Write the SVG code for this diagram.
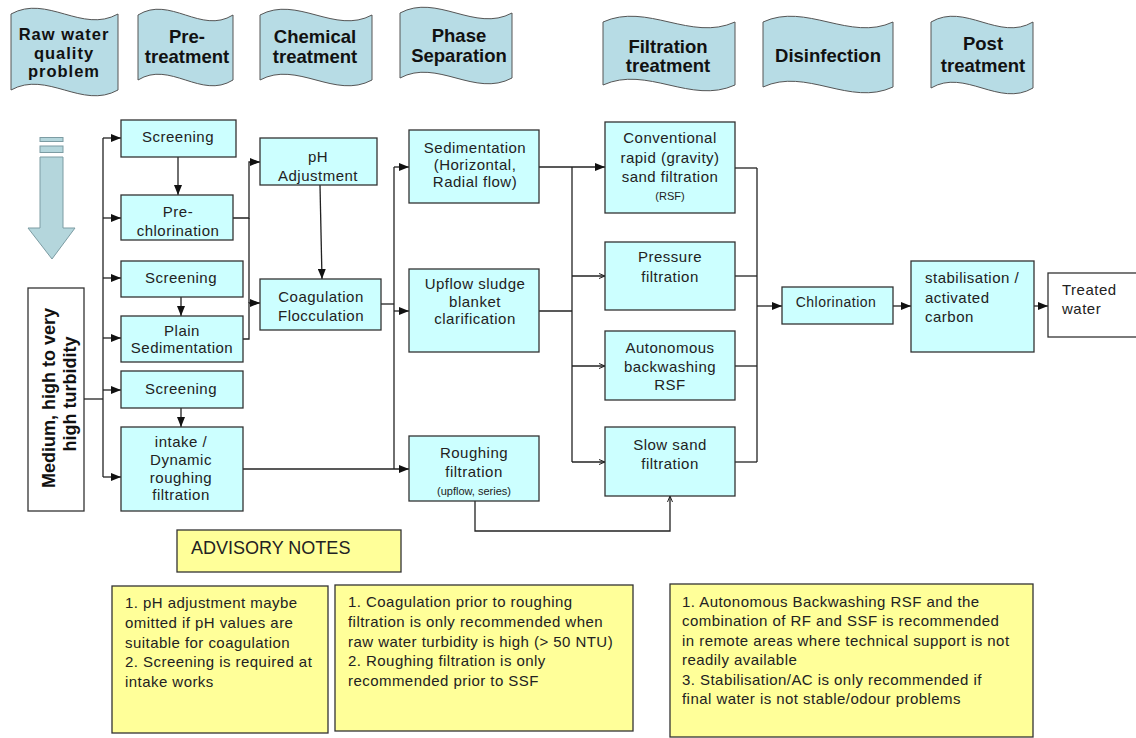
<svg xmlns="http://www.w3.org/2000/svg" width="1136" height="738" viewBox="0 0 1136 738">
  <defs>
    <style>
      .banner { fill: #b7dce5; stroke: #555; stroke-width: 1; }
      .btxt { font-family: "Liberation Sans", Arial, sans-serif; font-weight: bold; font-size: 18.5px; fill: #111; text-anchor: middle; }
      .box { fill: #ccffff; stroke: #333; stroke-width: 1.3; }
      .wbox { fill: #ffffff; stroke: #333; stroke-width: 1.3; }
      .note { fill: #ffff99; stroke: #333; stroke-width: 1.3; }
      .t { font-family: "Liberation Sans", Arial, sans-serif; font-size: 15px; letter-spacing: 0.5px; fill: #222; text-anchor: middle; }
      .tl { font-family: "Liberation Sans", Arial, sans-serif; font-size: 15px; letter-spacing: 0.5px; fill: #222; }
      .ts { font-family: "Liberation Sans", Arial, sans-serif; font-size: 11px; fill: #222; text-anchor: middle; }
      .nt { font-family: "Liberation Sans", Arial, sans-serif; font-size: 15px; letter-spacing: 0.45px; fill: #222; }
      .conn path, .conn line { fill: none; stroke: #222; stroke-width: 1.3; }
      .big { marker-end: url(#ah); }
      .small { marker-end: url(#as); }
    </style>
    <marker id="ah" viewBox="0 0 10 8" refX="10" refY="4" markerWidth="10" markerHeight="8" orient="auto" markerUnits="userSpaceOnUse">
      <path d="M0,0 L10,4 L0,8 z" fill="#111"/>
    </marker>
    <marker id="as" viewBox="0 0 6 6" refX="6" refY="3" markerWidth="6" markerHeight="6" orient="auto" markerUnits="userSpaceOnUse">
      <path d="M0,0.5 L6,3 L0,5.5" fill="none" stroke="#222" stroke-width="1"/>
    </marker>
  </defs>

  <rect width="1136" height="738" fill="#ffffff"/>

  <!-- stage banners -->
  <g id="banner-raw">
    <path class="banner" d="M11,14 C47,-6 82,34 118,14 L118,90 C82,110 47,70 11,90 Z"/>
    <text class="btxt" x="64" y="40" style="font-size:16.5px;letter-spacing:1px">Raw water</text>
    <text class="btxt" x="64" y="58.5" style="font-size:16.5px;letter-spacing:1px">quality</text>
    <text class="btxt" x="64" y="77" style="font-size:16.5px;letter-spacing:1px">problem</text>
  </g>
  <g id="banner-pre">
    <path class="banner" d="M138,15 C170,-5 201,35 233,15 L233,80 C201,100 170,60 138,80 Z"/>
    <text class="btxt" x="187" y="43">Pre-</text>
    <text class="btxt" x="187" y="63">treatment</text>
  </g>
  <g id="banner-chem">
    <path class="banner" d="M260,15 C297,-5 335,35 372,15 L372,80 C335,100 297,60 260,80 Z"/>
    <text class="btxt" x="315" y="43">Chemical</text>
    <text class="btxt" x="315" y="63">treatment</text>
  </g>
  <g id="banner-phase">
    <path class="banner" d="M400,13 C437,-7 475,33 512,13 L512,78 C475,98 437,58 400,78 Z"/>
    <text class="btxt" x="459" y="42">Phase</text>
    <text class="btxt" x="459" y="62">Separation</text>
  </g>
  <g id="banner-filt">
    <path class="banner" d="M603,22 C647,2 691,42 735,22 L735,85 C691,105 647,65 603,85 Z"/>
    <text class="btxt" x="668" y="53">Filtration</text>
    <text class="btxt" x="668" y="72">treatment</text>
  </g>
  <g id="banner-dis">
    <path class="banner" d="M763,22 C806,2 850,42 893,22 L893,87 C850,107 806,67 763,87 Z"/>
    <text class="btxt" x="828" y="62">Disinfection</text>
  </g>
  <g id="banner-post">
    <path class="banner" d="M931,22 C965,2 999,42 1033,22 L1033,88 C999,108 965,68 931,88 Z"/>
    <text class="btxt" x="983" y="50">Post</text>
    <text class="btxt" x="983" y="72">treatment</text>
  </g>

  <!-- downward block arrow -->
  <g id="flow-arrow" fill="#b4d6dc" stroke="#7c9ca3" stroke-width="1">
    <rect x="40" y="137.5" width="23" height="4"/>
    <rect x="40" y="146" width="23" height="6.5"/>
    <path d="M40,157 L63,157 L63,228 L75,228 L52,259 L28,228 L40,228 Z"/>
  </g>

  <!-- raw water condition -->
  <g id="turbidity">
    <rect class="wbox" x="28" y="288" width="56" height="223"/>
    <text class="btxt" transform="translate(55,398) rotate(-90)" style="font-size:18px">Medium, high to very</text>
    <text class="btxt" transform="translate(76,394) rotate(-90)" style="font-size:18px">high turbidity</text>
  </g>

  <!-- connectors -->
  <g id="connectors" class="conn">
    <line x1="84" y1="399" x2="103" y2="399"/>
    <line x1="103" y1="138" x2="103" y2="477"/>
    <line class="big" x1="103" y1="138" x2="121" y2="138"/>
    <line class="big" x1="103" y1="218" x2="121" y2="218"/>
    <line class="big" x1="103" y1="278" x2="121" y2="278"/>
    <line class="big" x1="103" y1="338" x2="121" y2="338"/>
    <line class="big" x1="103" y1="390" x2="121" y2="390"/>
    <line class="big" x1="103" y1="477" x2="121" y2="477"/>

    <line class="big" x1="178" y1="157" x2="178" y2="195"/>
    <line class="big" x1="181" y1="297" x2="181" y2="316"/>
    <line class="big" x1="181" y1="408" x2="181" y2="427"/>

    <path class="big" d="M233,218 L249,218 L249,162 L260,162"/>
    <path class="big" d="M243,339 L249,339 L249,303 L260,303"/>
    <line x1="249" y1="218" x2="249" y2="303"/>
    <line class="big" x1="320" y1="185" x2="322" y2="279"/>

    <line x1="381" y1="304" x2="394" y2="304"/>
    <line x1="394" y1="167" x2="394" y2="469"/>
    <line class="big" x1="394" y1="167" x2="409" y2="167"/>
    <line class="big" x1="394" y1="311" x2="409" y2="311"/>
    <line class="big" x1="243" y1="469" x2="409" y2="469"/>

    <line class="big" x1="539" y1="167" x2="605" y2="167"/>
    <line x1="539" y1="311" x2="572" y2="311"/>
    <line x1="572" y1="167" x2="572" y2="462"/>
    <line class="small" x1="572" y1="276" x2="605" y2="276"/>
    <line class="small" x1="572" y1="366" x2="605" y2="366"/>
    <line class="small" x1="572" y1="462" x2="605" y2="462"/>

    <path class="small" d="M475,501 L475,531 L670,531 L670,496"/>

    <line x1="735" y1="168" x2="757" y2="168"/>
    <line x1="735" y1="276" x2="757" y2="276"/>
    <line x1="735" y1="366" x2="757" y2="366"/>
    <line x1="735" y1="462" x2="757" y2="462"/>
    <line x1="757" y1="168" x2="757" y2="462"/>
    <line class="big" x1="757" y1="306" x2="782" y2="306"/>
    <line class="big" x1="893" y1="306" x2="911" y2="306"/>
    <line class="big" x1="1034" y1="306" x2="1048" y2="306"/>
  </g>

  <!-- pre-treatment -->
  <g id="screening-1">
    <rect class="box" x="121" y="120" width="115" height="37"/>
    <text class="t" x="178" y="142">Screening</text>
  </g>
  <g id="pre-chlorination">
    <rect class="box" x="121" y="195" width="112" height="45"/>
    <text class="t" x="178" y="217">Pre-</text>
    <text class="t" x="178" y="236">chlorination</text>
  </g>
  <g id="screening-2">
    <rect class="box" x="121" y="261" width="122" height="36"/>
    <text class="t" x="181" y="283">Screening</text>
  </g>
  <g id="plain-sedimentation">
    <rect class="box" x="121" y="316" width="122" height="46"/>
    <text class="t" x="182" y="336">Plain</text>
    <text class="t" x="182" y="353">Sedimentation</text>
  </g>
  <g id="screening-3">
    <rect class="box" x="121" y="371" width="122" height="37"/>
    <text class="t" x="181" y="394">Screening</text>
  </g>
  <g id="intake-roughing">
    <rect class="box" x="121" y="427" width="122" height="84"/>
    <text class="t" x="181" y="447">intake /</text>
    <text class="t" x="181" y="465">Dynamic</text>
    <text class="t" x="181" y="483">roughing</text>
    <text class="t" x="181" y="500">filtration</text>
  </g>

  <!-- chemical treatment -->
  <g id="ph-adjustment">
    <rect class="box" x="260" y="138" width="117" height="47"/>
    <text class="t" x="318" y="162">pH</text>
    <text class="t" x="318" y="181">Adjustment</text>
  </g>
  <g id="coagulation">
    <rect class="box" x="260" y="279" width="121" height="51"/>
    <text class="t" x="321" y="302">Coagulation</text>
    <text class="t" x="321" y="321">Flocculation</text>
  </g>

  <!-- phase separation -->
  <g id="sedimentation">
    <rect class="box" x="409" y="130" width="130" height="73"/>
    <text class="t" x="475" y="153">Sedimentation</text>
    <text class="t" x="475" y="170">(Horizontal,</text>
    <text class="t" x="475" y="187">Radial flow)</text>
  </g>
  <g id="upflow-clarification">
    <rect class="box" x="409" y="269" width="130" height="83"/>
    <text class="t" x="475" y="289">Upflow sludge</text>
    <text class="t" x="475" y="307">blanket</text>
    <text class="t" x="475" y="324">clarification</text>
  </g>
  <g id="roughing-filtration">
    <rect class="box" x="409" y="436" width="130" height="65"/>
    <text class="t" x="474" y="458">Roughing</text>
    <text class="t" x="474" y="477">filtration</text>
    <text class="ts" x="474" y="495">(upflow, series)</text>
  </g>

  <!-- filtration -->
  <g id="rapid-sand">
    <rect class="box" x="605" y="122" width="130" height="91"/>
    <text class="t" x="670" y="143">Conventional</text>
    <text class="t" x="670" y="163">rapid (gravity)</text>
    <text class="t" x="670" y="182">sand filtration</text>
    <text class="ts" x="670" y="200">(RSF)</text>
  </g>
  <g id="pressure-filtration">
    <rect class="box" x="605" y="242" width="130" height="68"/>
    <text class="t" x="670" y="262">Pressure</text>
    <text class="t" x="670" y="282">filtration</text>
  </g>
  <g id="autonomous-rsf">
    <rect class="box" x="605" y="331" width="130" height="69"/>
    <text class="t" x="670" y="353">Autonomous</text>
    <text class="t" x="670" y="372">backwashing</text>
    <text class="t" x="670" y="390">RSF</text>
  </g>
  <g id="slow-sand">
    <rect class="box" x="605" y="427" width="130" height="69"/>
    <text class="t" x="670" y="450">Slow sand</text>
    <text class="t" x="670" y="469">filtration</text>
  </g>

  <!-- disinfection and post treatment -->
  <g id="chlorination">
    <rect class="box" x="782" y="287" width="111" height="37"/>
    <text class="t" x="836" y="307" style="font-size:14px">Chlorination</text>
  </g>
  <g id="stabilisation">
    <rect class="box" x="911" y="261" width="123" height="91"/>
    <text class="tl" x="925" y="283">stabilisation /</text>
    <text class="tl" x="925" y="303">activated</text>
    <text class="tl" x="925" y="322">carbon</text>
  </g>
  <g id="treated-water">
    <rect class="wbox" x="1048" y="273" width="95" height="64"/>
    <text class="tl" x="1062" y="295">Treated</text>
    <text class="tl" x="1062" y="314">water</text>
  </g>

  <!-- notes -->
  <g id="advisory-title">
    <rect class="note" x="177" y="530" width="224" height="42"/>
    <text x="191" y="554" font-family="Liberation Sans, Arial, sans-serif" font-size="18" fill="#222">ADVISORY NOTES</text>
  </g>
  <g id="note-1">
    <rect class="note" x="112" y="586" width="216" height="147"/>
    <text class="nt" x="125" y="608">1. pH adjustment maybe</text>
    <text class="nt" x="125" y="628">omitted if pH values are</text>
    <text class="nt" x="125" y="648">suitable for coagulation</text>
    <text class="nt" x="125" y="667">2. Screening is required at</text>
    <text class="nt" x="125" y="687">intake works</text>
  </g>
  <g id="note-2">
    <rect class="note" x="335" y="585" width="298" height="146"/>
    <text class="nt" x="348" y="607">1. Coagulation prior to roughing</text>
    <text class="nt" x="348" y="627">filtration is only recommended when</text>
    <text class="nt" x="348" y="647">raw water turbidity is high (&gt; 50 NTU)</text>
    <text class="nt" x="348" y="666">2. Roughing filtration is only</text>
    <text class="nt" x="348" y="686">recommended prior to SSF</text>
  </g>
  <g id="note-3">
    <rect class="note" x="670" y="584" width="363" height="153"/>
    <text class="nt" x="682" y="607">1. Autonomous Backwashing RSF and the</text>
    <text class="nt" x="682" y="626">combination of RF and SSF is recommended</text>
    <text class="nt" x="682" y="646">in remote areas where technical support is not</text>
    <text class="nt" x="682" y="665">readily available</text>
    <text class="nt" x="682" y="685">3. Stabilisation/AC is only recommended if</text>
    <text class="nt" x="682" y="704">final water is not stable/odour problems</text>
  </g>
</svg>
